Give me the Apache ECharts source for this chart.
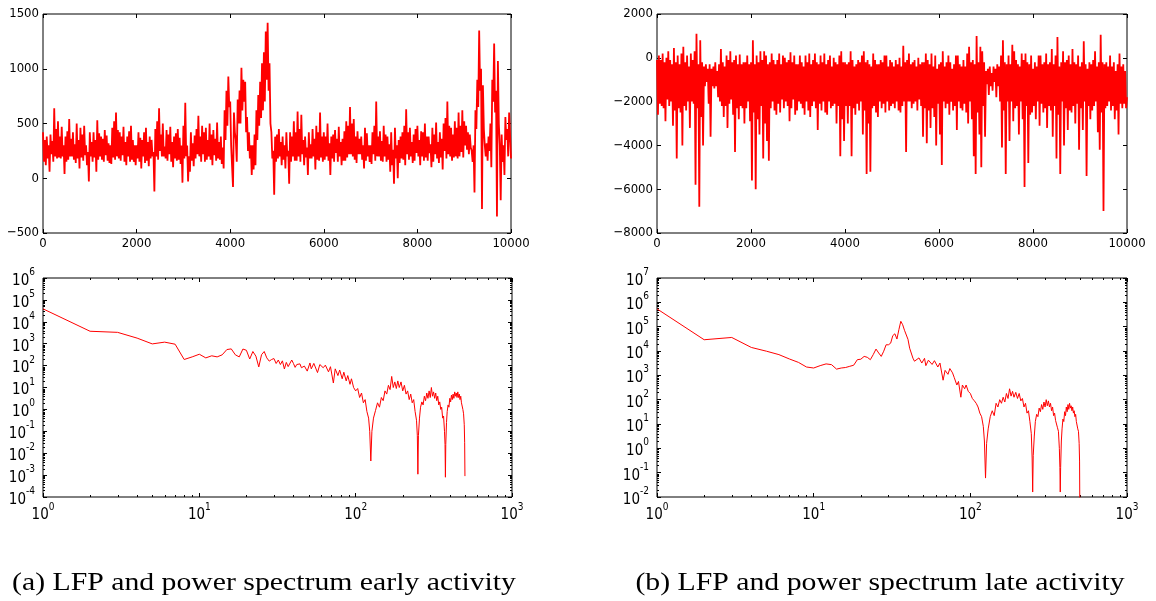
<!DOCTYPE html>
<html><head><meta charset="utf-8">
<script src="https://cdn.jsdelivr.net/npm/echarts@6/dist/echarts.min.js"></script>
<style>html,body{margin:0;padding:0;background:#fff}#c{width:1156px;height:601px}</style>
</head><body><div id="c"></div>
<script>
// ---------- data ----------
// LFP traces: local peak and trough of the dense trace in each 40-unit time bin
const binStep = 40;
const lfpEarlyPeaks = [
 420,350,380,300,400,340,640,450,520,380,470,300,380,430,540,360,420,310,500,350,460,400,480,300,240,
 420,330,420,350,530,410,380,360,440,390,320,300,460,520,600,440,420,380,470,330,380,430,480,350,300,
 300,420,370,350,420,460,330,380,350,240,450,520,640,400,500,290,440,400,470,330,380,410,450,370,300,
 480,690,300,200,420,320,390,450,570,380,480,420,460,350,500,400,440,360,510,330,380,280,620,800,930,
 700,300,600,350,720,800,1010,900,880,560,420,300,300,400,620,760,880,1050,1150,1340,1420,1050,420,250,380,
 400,450,330,380,300,420,250,420,380,520,420,610,450,580,350,380,280,420,310,450,360,480,420,600,380,
 420,380,500,320,380,400,440,360,470,330,360,430,520,480,650,500,540,380,430,360,380,300,460,410,300,
 300,420,480,700,380,430,340,480,400,380,310,420,260,460,300,350,380,420,480,630,420,460,330,400,450,
 480,350,430,420,500,380,380,310,460,400,510,330,420,360,500,550,700,480,460,400,520,460,600,480,620,
 520,480,420,400,250,300,620,900,1350,1000,850,300,320,380,500,900,1230,800,1070,300,400,300,560,450,600
];
const lfpEarlyTroughs = [
 150,120,180,60,220,150,200,180,190,180,200,40,150,170,200,200,170,140,180,90,190,160,210,120,-30,
 200,150,190,60,170,200,170,150,210,160,140,130,190,170,200,180,160,210,150,120,200,150,170,150,120,
 180,150,90,200,140,160,110,180,200,-120,200,170,250,200,200,180,160,220,150,100,180,160,170,130,-40,
 180,200,-30,60,160,110,180,220,200,150,220,150,170,200,170,120,210,160,180,170,130,90,350,480,650,
 300,-80,420,150,500,500,620,700,420,250,180,30,80,120,350,480,550,620,700,900,800,500,180,-150,150,
 180,200,120,170,90,200,-50,150,200,160,160,200,150,220,120,190,30,180,180,200,80,170,160,190,150,
 170,200,160,30,180,150,230,150,200,120,160,160,190,220,220,200,170,140,220,220,170,90,160,200,150,
 130,220,160,200,200,160,150,200,150,170,60,120,-50,180,0,140,180,170,120,220,170,200,140,160,230,
 200,120,200,160,190,160,230,100,150,220,180,140,190,80,250,180,220,200,160,190,200,180,200,240,190,
 300,260,220,280,150,-130,450,650,800,-280,450,200,160,250,100,700,600,-350,500,-200,150,30,350,200,400
];
const lfpEarlyEnd = 180;
const lfpLatePeaks = [
 -100,100,-100,200,-200,0,300,-100,-300,450,-200,100,-300,200,500,-200,100,-400,200,-100,300,1100,-300,800,-200,
 -400,-300,-500,-300,-500,-400,-200,-600,-300,400,-200,-400,100,-100,300,-200,-100,100,-300,150,-300,-200,-200,100,-300,
 -200,800,-300,100,-200,300,-100,300,100,-300,-200,200,-100,-300,-100,200,-300,100,0,-200,-100,250,-200,100,-300,
 -300,100,-200,-400,100,-200,200,-300,-100,200,-200,-300,100,-200,200,-300,-100,100,-400,0,-200,-300,100,300,-200,
 -200,-300,-200,300,-100,-400,-300,-100,-200,100,300,-200,-100,-300,-400,200,-100,-300,-300,-100,-200,100,100,-400,-100,
 -200,-400,-100,-300,0,-400,550,-200,-100,200,-300,-200,-100,-400,0,-300,-200,-200,200,-100,-300,200,-400,100,-500,
 -300,-200,300,-400,-200,100,-200,-500,-300,100,100,-300,-400,-100,-400,200,500,-200,-100,-300,1000,-200,500,300,-200,
 -600,-500,-400,-700,-400,-500,-300,-400,100,800,-200,-300,100,-300,600,300,-100,-300,-400,200,-100,200,-200,-300,100,
 -500,-200,-400,100,100,-300,-200,200,-300,-200,400,-300,100,950,-400,-200,300,-200,-100,100,-300,400,-200,-300,100,
 -400,-200,750,-300,-500,-200,-300,-100,300,-400,-200,1050,-200,-300,-200,-400,100,-400,-200,-600,-300,200,-400,-300,-600
];
const lfpLateTroughs = [
 -2600,-2100,-2200,-2300,-2900,-1900,-2200,-2000,-3100,-2400,-4600,-2300,-2500,-4000,-2200,-2400,-2000,-3200,-2000,-2100,-5800,-2300,-6800,-2700,-4000,
 -1300,-1100,-2100,-3600,-1300,-1400,-1300,-1800,-2000,-2200,-2700,-2200,-3200,-2100,-1900,-2600,-4300,-2300,-2800,-2200,-2300,-3000,-2300,-2000,-2900,
 -5600,-2500,-6000,-2800,-3500,-2200,-4600,-3000,-3800,-4700,-2300,-2000,-2400,-2600,-2100,-2500,-1900,-2300,-2000,-2200,-2900,-2300,-1900,-2600,-2400,
 -2000,-2100,-2300,-2600,-2000,-2400,-2700,-2200,-2000,-2300,-3300,-2100,-2400,-2000,-2500,-2600,-2000,-2300,-2200,-2100,-3000,-2200,-4500,-2800,-3800,
 -2200,-3000,-2200,-4500,-2300,-2600,-2100,-2400,-2000,-3500,-2400,-5300,-3000,-5200,-2300,-2200,-2500,-2700,-2000,-2300,-2100,-2500,-2000,-2400,-2200,
 -2100,-2300,-2000,-2400,-2500,-2200,-2000,-4300,-2000,-2000,-2300,-2100,-2000,-2400,-1900,-2200,-3600,-2300,-3900,-2400,-3200,-2300,-2700,-4000,-2100,
 -3500,-4900,-2000,-2300,-2100,-2600,-2000,-2400,-2200,-3300,-2000,-2300,-2400,-2100,-2500,-3000,-2000,-2800,-4500,-5300,-2500,-3500,-5000,-2200,-3600,
 -1200,-1700,-1300,-1500,-1100,-1800,-1300,-2000,-4100,-2400,-5300,-2000,-3800,-2000,-2900,-2300,-2200,-3500,-2000,-2800,-5900,-2200,-4800,-2600,-2500,
 -2200,-2800,-2000,-3100,-2100,-2500,-2300,-3200,-2200,-2400,-3600,-2200,-4600,-2600,-5300,-2000,-4000,-2300,-3300,-2400,-2500,-2200,-3000,-2100,-4200,
 -2300,-3300,-2000,-5400,-2200,-2800,-2400,-2200,-2000,-3400,-4200,-2500,-7000,-2300,-2200,-2000,-2400,-2200,-2800,-2400,-3500,-2100,-2300,-2100,-2300
];
const lfpLateEnd = -1800;
// power spectra: [frequency, power]
const spectrumEarly = [
 [1,3.9e4],[2,3700],[3,3300],[4,1800],[5,980],[6,1180],[7,950],[8,190],[9,250],[10,330],
 [11,225],[12,280],[13,250],[14,310],[15,540],[16,580],[17,310],[18,250],[19,570],[20,500],
 [21,200],[22,440],[23,270],[24,87],[25,315],[26,440],[27,225],[28,160],[29,190],[30,210],
 [31,125],[32,180],[33,112],[34,165],[35,70],[36,140],[37,90],[38,100],[39,180],[40,125],
 [41,83],[42,112],[43,95],[44,120],[45,80],[47,95],[49,56],[51,132],[52,71],[54,126],
 [57,48],[59,112],[62,80],[64,105],[67,52],[69,89],[72,16],[74,71],[77,35],[79,63],
 [82,25],[84,50],[87,20],[89,35],[92,14],[94,25],[97,10],[100,7],[103,9],[106,3.5],
 [109,5.6],[112,2],[115,2.8],[118,0.8],[121,0.4],[123,0.1],[125,0.0044],[127,0.1],[130,0.4],[134,0.9],
 [138,2],[142,1.26],[146,3.5],[150,2.5],[154,7],[158,5],[162,12.6],[166,8],[170,32],[174,10],
 [178,18],[182,9],[186,20],[190,10],[195,18],[200,7],[205,12.6],[210,5],[215,7],[220,2.8],
 [225,5],[230,2],[235,2.8],[240,0.8],[245,0.32],[248,0.063],[250,0.0011],[252,0.063],[256,0.4],[260,1.26],
 [265,2.2],[270,1.6],[275,4],[280,2.5],[285,5.6],[290,3.2],[295,7],[300,3.5],[305,10],[310,4],
 [315,6.3],[320,3.2],[325,5.6],[330,2.5],[335,4],[340,1.6],[345,2.2],[350,1],[355,1.26],[360,0.4],
 [365,0.5],[370,0.1],[373,0.025],[375,0.0008],[377,0.025],[381,0.25],[385,0.8],[390,1.6],[395,1.26],[400,3.2],
 [405,2.2],[410,4.5],[415,2.8],[420,5],[425,3.2],[430,6.3],[435,4],[440,5.6],[445,3.5],[450,6.3],
 [455,3.5],[460,5],[465,2.8],[470,4],[475,2],[480,2.2],[485,1],[490,0.63],[495,0.2],[498,0.03],[500,0.0009]
];
const spectrumLate = [
 [1,5.4e5],[2,2.9e4],[3,3.6e4],[4,1.4e4],[5,9800],[6,7100],[7,4700],[8,3400],[9,2200],[10,2000],
 [11,2500],[12,2950],[13,2750],[14,1800],[15,2000],[16,2100],[17,2350],[18,2600],[19,4400],[20,4600],
 [21,6000],[22,5500],[23,4400],[24,7100],[25,12000],[26,8300],[27,6000],[28,9800],[29,18000],[30,18000],
 [31,21000],[32,43000],[33,51000],[34,31000],[35,76000],[36,166000],[37,120000],[38,71000],[39,65000],[40,30000],
 [41,13000],[42,11000],[43,5100],[44,3800],[45,4200],[47,5200],[49,3200],[51,5000],[52,2500],[54,4200],
 [57,2800],[59,4000],[62,2200],[64,3200],[67,630],[69,1600],[72,1100],[74,1900],[77,1260],[79,800],
 [82,400],[84,560],[87,126],[89,400],[92,280],[94,400],[97,220],[100,180],[103,112],[106,90],
 [109,71],[112,50],[115,28],[118,20],[121,8],[123,2],[125,0.06],[127,1.6],[130,6.3],[134,20],
 [138,35],[142,22],[146,71],[150,50],[154,100],[158,71],[162,126],[166,80],[170,180],[174,112],
 [178,280],[182,140],[186,220],[190,126],[195,200],[200,112],[205,180],[210,89],[215,112],[220,50],
 [225,71],[230,28],[235,35],[240,12.6],[245,4],[248,0.4],[250,0.016],[252,0.5],[256,3.2],[260,12.6],
 [265,25],[270,20],[275,45],[280,32],[285,63],[290,40],[295,80],[300,50],[305,100],[310,56],
 [315,89],[320,50],[325,71],[330,35],[335,50],[340,22],[345,28],[350,14],[355,16],[360,7],
 [365,5],[370,1],[373,0.16],[375,0.016],[377,0.16],[381,2],[385,6.3],[390,16],[395,12.6],[400,32],
 [405,22],[410,50],[415,32],[420,63],[425,40],[430,71],[435,45],[440,56],[445,35],[450,50],
 [455,28],[460,35],[465,20],[470,25],[475,12.6],[480,14],[485,6.3],[490,5],[495,1.6],[498,0.3],[500,0.003]
];
// axis ranges / ticks
const timeAxis = [0, 10000, 2000];
const earlyLfpAxis = [-500, 1500, 500];
const lateLfpAxis = [-8000, 2000, 2000];
const freqAxis = [1, 1000];
const earlyPowerAxis = [1e-4, 1e6];
const latePowerAxis = [1e-2, 1e7];
const captions = ['(a) LFP and power spectrum early activity', '(b) LFP and power spectrum late activity'];

// ---------- build ----------
function traceFrom(peaks, troughs, endValue) {
  const pts = [];
  peaks.forEach((p, i) => {
    pts.push([i * binStep, p]);
    pts.push([i * binStep + binStep / 2, troughs[i]]);
  });
  pts.push([peaks.length * binStep, endValue]);
  return pts;
}
const FONT = '"DejaVu Sans Condensed", "DejaVu Sans", sans-serif';
const grids = [
  {left: 43, top: 14, width: 468, height: 219},
  {left: 657, top: 14, width: 470, height: 219},
  {left: 43, top: 278, width: 469, height: 219},
  {left: 657, top: 278, width: 470, height: 219}
].map(g => Object.assign(g, {show: true, borderColor: '#000', borderWidth: 1, backgroundColor: 'transparent'}));

function minusFmt(v) { return String(v).replace('-', '\u2212'); }
function supFmt(v) {
  const e = Math.round(Math.log10(v));
  return '{b|10}{s|' + (e < 0 ? '-' + (-e) : e) + '}';
}
const rich = {
  b: {fontFamily: FONT, fontSize: 15, color: '#000', lineHeight: 21, verticalAlign: 'bottom'},
  s: {fontFamily: FONT, fontSize: 10, color: '#000', lineHeight: 21, verticalAlign: 'top'}
};
function axisPair(grid, dim, range, isLog) {
  const res = [];
  const positions = dim === 'x' ? ['bottom', 'top'] : ['left', 'right'];
  positions.forEach((pos, k) => {
    const a = {
      type: isLog ? 'log' : 'value', gridIndex: grid, position: pos,
      min: range[0], max: range[1],
      axisLine: {show: false, onZero: false}, splitLine: {show: false},
      axisTick: {show: true, inside: true, length: 4, lineStyle: {color: '#000', width: 1}},
      axisLabel: {show: k === 0, margin: 4, color: '#000', fontFamily: FONT, fontSize: 13,
        showMinLabel: true, showMaxLabel: true, hideOverlap: false}
    };
    if (isLog) {
      a.logBase = 10; a.interval = 1;
      a.axisLabel.formatter = supFmt; a.axisLabel.rich = rich;
      a.axisLabel.margin = dim === 'x' ? 5 : 8;
    } else {
      a.interval = range[2];
      a.axisLabel.formatter = minusFmt;
    }
    res.push(a);
  });
  return res;
}
const xAxis = [].concat(
  axisPair(0, 'x', timeAxis, false), axisPair(1, 'x', timeAxis, false),
  axisPair(2, 'x', freqAxis, true), axisPair(3, 'x', freqAxis, true));
const yAxis = [].concat(
  axisPair(0, 'y', earlyLfpAxis, false), axisPair(1, 'y', lateLfpAxis, false),
  axisPair(2, 'y', earlyPowerAxis, true), axisPair(3, 'y', latePowerAxis, true));

function lineSeries(g, data, w) {
  return {type: 'line', xAxisIndex: 2 * g, yAxisIndex: 2 * g, data: data, showSymbol: false, symbol: 'none',
    sampling: null, animation: false, silent: true,
    lineStyle: {color: '#ff0000', width: w}};
}
function minorTicks(g, dim, range, other) {
  const vals = [];
  for (let e = Math.round(Math.log10(range[0])); e < Math.round(Math.log10(range[1])); e++)
    for (let m = 2; m <= 9; m++) vals.push(m * Math.pow(10, e));
  return {
    type: 'custom', xAxisIndex: 2 * g, yAxisIndex: 2 * g, silent: true, animation: false, clip: false,
    data: vals.map(v => dim === 'x' ? [v, other] : [other, v]),
    renderItem: function (params, api) {
      const cs = params.coordSys;
      const p = api.coord([api.value(0), api.value(1)]);
      const s = {stroke: '#000', lineWidth: 1};
      const L = 2;
      if (dim === 'x') {
        const x = Math.round(p[0]) + 0.5;
        return {type: 'group', children: [
          {type: 'line', shape: {x1: x, y1: cs.y + cs.height, x2: x, y2: cs.y + cs.height - L}, style: s},
          {type: 'line', shape: {x1: x, y1: cs.y, x2: x, y2: cs.y + L}, style: s}]};
      }
      const y = Math.round(p[1]) + 0.5;
      return {type: 'group', children: [
        {type: 'line', shape: {x1: cs.x, y1: y, x2: cs.x + L, y2: y}, style: s},
        {type: 'line', shape: {x1: cs.x + cs.width, y1: y, x2: cs.x + cs.width - L, y2: y}, style: s}]};
    }
  };
}

const series = [
  lineSeries(0, traceFrom(lfpEarlyPeaks, lfpEarlyTroughs, lfpEarlyEnd), 1.8),
  lineSeries(1, traceFrom(lfpLatePeaks, lfpLateTroughs, lfpLateEnd), 1.8),
  lineSeries(2, spectrumEarly, 1),
  lineSeries(3, spectrumLate, 1),
  minorTicks(2, 'x', freqAxis, 1),
  minorTicks(2, 'y', earlyPowerAxis, 1),
  minorTicks(3, 'x', freqAxis, 1),
  minorTicks(3, 'y', latePowerAxis, 1)
];

const capStyle = t => ({text: t, fill: '#000', font: '25px "Liberation Serif", serif', textAlign: 'center', textVerticalAlign: 'middle'});
const chart = echarts.init(document.getElementById('c'));
chart.setOption({
  animation: false,
  backgroundColor: '#fff',
  grid: grids, xAxis: xAxis, yAxis: yAxis, series: series,
  graphic: [
    {type: 'text', x: 264, y: 583, scaleX: 1.19, style: capStyle(captions[0])},
    {type: 'text', x: 880, y: 583, scaleX: 1.19, style: capStyle(captions[1])}
  ]
});
</script>
</body></html>
